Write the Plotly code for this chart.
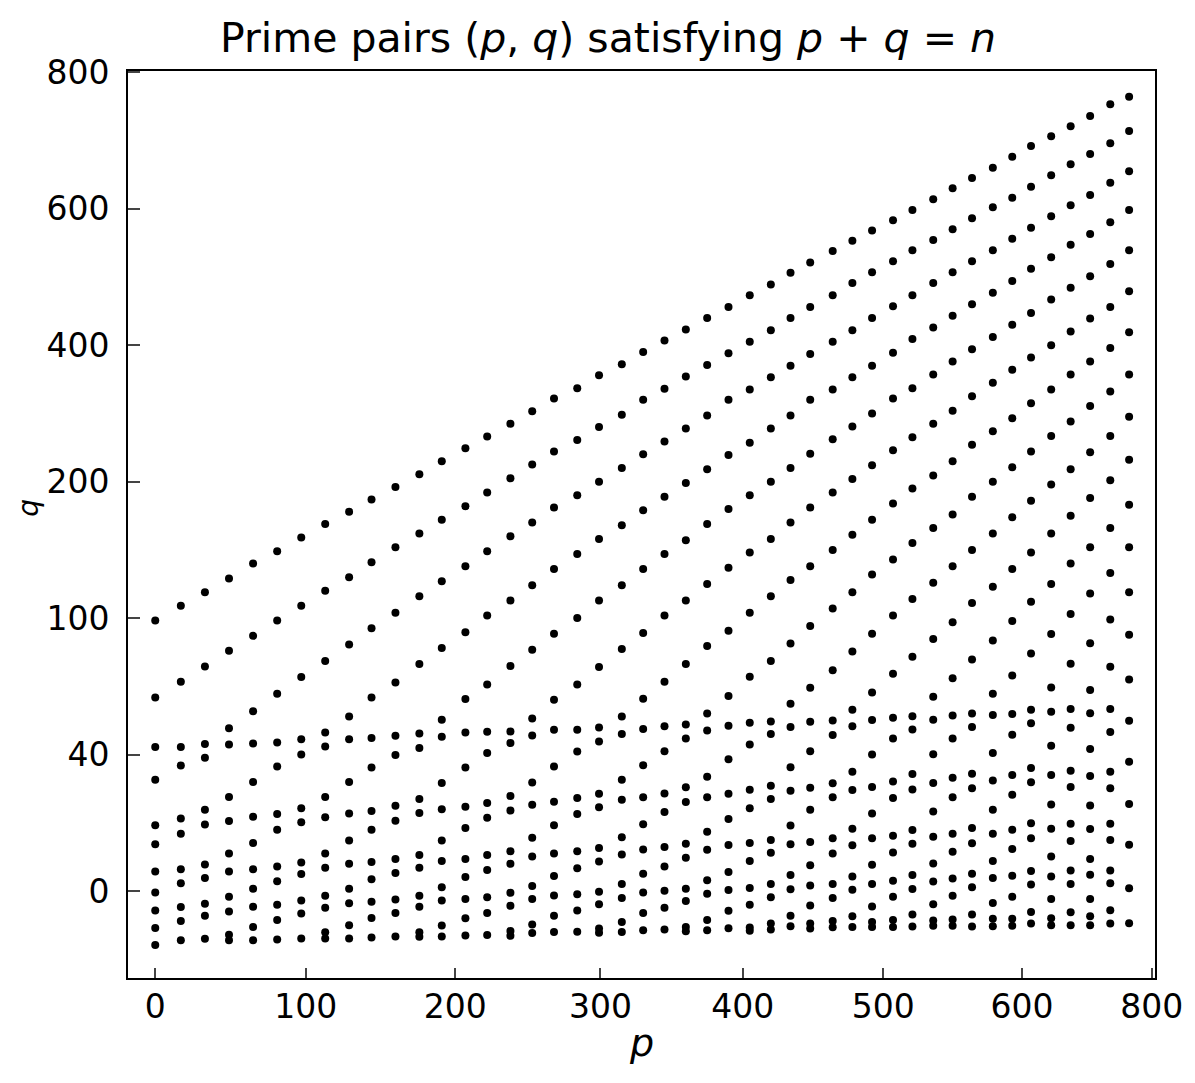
import numpy as np
import plotly.graph_objects as go

# ---- data -----------------------------------------------------------------
# p value of each column of points (read against the x tick labels)
P_COLUMNS = [0, 17, 33, 49, 65, 81, 97, 113, 129, 144,
             160, 176, 191, 207, 222, 238, 253, 268, 284, 299,
             315, 330, 345, 360, 375, 390, 405, 420, 434, 448,
             464, 478, 492, 507, 521, 536, 550, 564, 579, 593,
             614, 645, 675, 705, 736, 765]

# q values of the points in each column (read against the y tick labels)
Q_BY_COLUMN = [
    [99, 65.1, 43.3, 32.6, 19.3, 13.7, 5.7, -0.4, -5.7, -10.8, -15.8],
    [109, 72.0, 43.3, 36.8, 21.3, 16.8, 6.4, 2.3, -4.7, -8.8, -14.4],
    [119, 78.7, 44.7, 39.1, 23.8, 19.5, 7.8, 3.8, -3.7, -7.2, -14.0],
    [129, 85.6, 51.6, 44.4, 27.6, 20.5, 11.0, 5.7, -1.7, -6.0, -12.8, -14.4],
    [140, 92.2, 59.1, 44.9, 32.0, 21.8, 14.1, 6.4, 0.7, -4.6, -10.5, -14.4],
    [149, 98.9, 66.7, 45.3, 36.5, 22.6, 18.0, 7.2, 2.9, -4.0, -8.5, -14.2],
    [159, 109, 74.1, 46.8, 40.0, 24.3, 20.2, 8.4, 5.0, -2.8, -6.6, -13.9],
    [169, 120, 81.2, 49.7, 43.6, 27.6, 21.6, 11.0, 6.8, -1.4, -4.9, -12.1, -13.9],
    [178, 130, 88.4, 56.7, 46.8, 32.0, 22.7, 14.8, 8.0, 0.7, -3.6, -10.0, -13.9],
    [187, 141, 95.6, 65.1, 47.3, 36.2, 23.5, 18.0, 8.5, 3.5, -3.1, -7.9, -13.6],
    [196, 152, 104, 71.7, 48.3, 39.9, 25.0, 20.6, 9.4, 5.3, -2.5, -6.4, -13.3],
    [211, 162, 116, 79.8, 49.3, 42.9, 27.0, 22.9, 10.6, 6.8, -1.4, -4.6, -12.1, -13.4],
    [230, 172, 127, 86.9, 55.3, 47.8, 31.7, 24.0, 14.8, 8.8, 1.1, -2.8, -10.1, -13.3],
    [249, 182, 138, 93.8, 64.4, 49.7, 36.2, 24.7, 18.5, 9.4, 4.1, -2.3, -8.0, -13.0],
    [266, 192, 149, 102, 70.8, 50.0, 40.7, 25.8, 21.5, 10.6, 6.2, -1.8, -6.4, -12.9],
    [285, 205, 160, 113, 79.0, 50.2, 45.1, 27.9, 23.6, 11.7, 8.0, -0.5, -4.3, -11.7, -13.1],
    [303, 225, 170, 124, 86.1, 55.9, 48.4, 31.8, 25.3, 15.6, 10.1, 1.5, -2.3, -9.8, -12.3],
    [322, 244, 181, 136, 93.1, 64.1, 50.9, 36.5, 26.2, 19.3, 11.0, 4.4, -1.3, -7.2, -12.0],
    [337, 261, 190, 147, 100, 70.8, 50.9, 41.4, 27.3, 22.6, 11.7, 6.7, -0.9, -5.7, -11.9],
    [356, 280, 200, 158, 113, 78.5, 51.9, 45.8, 28.5, 24.6, 12.6, 8.7, -0.2, -3.9, -11.0, -12.2],
    [372, 298, 220, 168, 124, 86.4, 56.7, 49.1, 32.6, 26.8, 15.8, 10.7, 2.1, -2.0, -9.1, -12.0],
    [390, 320, 240, 179, 136, 93.5, 64.5, 51.3, 36.9, 27.5, 19.6, 12.2, 5.1, -0.4, -6.4, -11.5],
    [407, 336, 259, 189, 147, 102, 72.0, 52.5, 41.5, 28.6, 23.2, 12.9, 7.2, 0.1, -4.9, -11.3],
    [423, 354, 278, 199, 157, 113, 79.8, 53.2, 47.1, 30.4, 26.1, 13.9, 9.8, 0.7, -2.9, -10.5, -11.8],
    [440, 371, 297, 218, 169, 125, 87.7, 58.1, 50.6, 33.5, 27.5, 17.4, 12.1, 3.2, -0.8, -8.5, -11.5],
    [456, 388, 320, 239, 180, 137, 94.5, 65.8, 52.7, 38.6, 28.5, 21.1, 13.5, 5.6, 0.3, -5.8, -10.9],
    [473, 405, 335, 257, 190, 148, 104, 74.2, 54.0, 44.4, 29.7, 24.3, 14.1, 8.8, 0.9, -4.0, -10.7, -11.6],
    [489, 422, 353, 278, 200, 158, 116, 81.2, 54.5, 49.0, 30.9, 27.0, 15.0, 11.2, 2.1, -1.8, -9.5, -11.3],
    [506, 440, 370, 297, 220, 170, 128, 88.8, 62.3, 52.1, 36.3, 29.4, 19.2, 13.7, 4.7, 0.5, -7.2, -10.3],
    [521, 456, 387, 320, 241, 181, 138, 96.5, 69.4, 54.4, 41.5, 30.3, 23.8, 14.4, 7.6, 1.6, -4.2, -9.5, -11.0],
    [538, 473, 405, 335, 262, 192, 150, 107, 77.1, 55.0, 48.6, 31.6, 27.5, 15.5, 11.0, 2.1, -2.0, -8.8, -10.6],
    [553, 491, 422, 353, 281, 204, 161, 119, 85.3, 59.7, 52.5, 35.0, 29.6, 18.3, 13.4, 4.3, 0.4, -7.4, -10.5],
    [568, 507, 440, 370, 300, 224, 172, 132, 93.1, 67.3, 55.2, 40.0, 30.5, 22.7, 15.5, 7.7, 2.1, -4.5, -9.1, -10.5],
    [583, 523, 457, 389, 322, 246, 184, 143, 102, 75.5, 56.2, 47.1, 32.1, 27.3, 16.2, 11.3, 3.0, -1.7, -8.5, -10.5],
    [598, 539, 473, 409, 337, 265, 195, 155, 114, 83.0, 56.9, 51.0, 34.3, 29.8, 17.9, 13.9, 4.7, 0.6, -6.9, -10.4],
    [614, 554, 491, 426, 357, 285, 209, 166, 126, 90.8, 65.4, 55.3, 40.2, 31.7, 23.3, 15.9, 8.1, 2.8, -3.9, -8.6, -10.2],
    [630, 570, 507, 443, 376, 304, 230, 176, 138, 98.2, 73.6, 57.2, 47.1, 33.2, 27.5, 16.8, 11.5, 3.7, -1.4, -8.3, -10.2],
    [645, 586, 523, 460, 394, 325, 254, 189, 150, 111, 81.8, 58.1, 52.1, 34.4, 30.1, 18.5, 14.0, 5.1, 1.1, -6.9, -10.4],
    [660, 602, 539, 477, 412, 345, 274, 200, 162, 123, 90.2, 66.7, 57.4, 40.7, 32.4, 23.8, 16.8, 8.8, 3.8, -3.5, -8.1, -10.3],
    [676, 616, 556, 494, 430, 364, 293, 221, 174, 136, 98.7, 74.8, 57.9, 48.7, 34.0, 28.2, 18.0, 12.3, 4.5, -1.7, -8.1, -10.2],
    [692, 632, 572, 512, 447, 382, 315, 244, 186, 148, 112, 84.4, 59.7, 53.8, 36.1, 31.9, 19.9, 15.5, 5.9, 1.9, -6.1, -9.5],
    [706, 649, 589, 529, 467, 400, 335, 267, 198, 162, 125, 93.0, 69.5, 58.8, 43.9, 34.0, 25.4, 18.3, 10.1, 4.3, -2.3, -8.0, -10.0],
    [721, 665, 605, 547, 484, 420, 357, 288, 218, 175, 140, 103, 79.9, 60.1, 51.8, 35.3, 30.5, 19.7, 14.7, 6.0, 2.1, -6.2, -10.0],
    [736, 680, 620, 563, 501, 439, 376, 311, 243, 188, 152, 118, 89.0, 68.4, 58.2, 42.5, 33.7, 25.1, 18.2, 9.4, 4.8, -2.3, -7.4, -10.0],
    [753, 696, 638, 580, 519, 456, 396, 332, 267, 202, 166, 133, 99.4, 78.6, 60.1, 49.9, 35.0, 30.1, 19.7, 15.0, 6.0, 2.3, -5.6, -9.5],
    [764, 714, 655, 598, 539, 479, 419, 357, 295, 232, 183, 152, 119, 92.7, 73.0, 54.9, 37.9, 25.5, 13.6, 0.8, -9.4],
]

# tick labels of the two axes
X_TICK_LABELS = [0, 100, 200, 300, 400, 500, 600, 800]
Y_TICK_LABELS = [0, 40, 100, 200, 400, 600, 800]

# ---- axis scales (the picture's axes are not evenly divided) ---------------
X_TICK_POS = [0, 100, 199.3, 295.8, 390.3, 483.7, 575.8, 662.1]
Y_TICK_POS = list(range(len(Y_TICK_LABELS)))


def x_scale(p):
    return np.interp(np.asarray(p, float), X_TICK_LABELS, X_TICK_POS)


def y_scale(q):
    q = np.asarray(q, float)
    first_slope = (Y_TICK_POS[1] - Y_TICK_POS[0]) / (Y_TICK_LABELS[1] - Y_TICK_LABELS[0])
    return np.where(q < Y_TICK_LABELS[0], q * first_slope,
                    np.interp(q, Y_TICK_LABELS, Y_TICK_POS))


p_all = np.concatenate([[p] * len(qs) for p, qs in zip(P_COLUMNS, Q_BY_COLUMN)])
q_all = np.concatenate([qs for qs in Q_BY_COLUMN])

FONT = "DejaVu Sans"

fig = go.Figure()
fig.add_trace(go.Scatter(
    x=x_scale(p_all), y=y_scale(q_all),
    mode="markers",
    marker=dict(size=8, color="black", line=dict(width=0)),
    customdata=np.stack([p_all, q_all], axis=1),
    hovertemplate="p=%{customdata[0]}<br>q=%{customdata[1]}<extra></extra>",
    showlegend=False,
))

axis_common = dict(
    showgrid=False, zeroline=False,
    showline=True, linecolor="black", linewidth=2, mirror=True,
    ticks="inside", tickcolor="#444444", tickwidth=1.5,
    tickfont=dict(family=FONT, size=33, color="black"),
)

fig.update_xaxes(
    range=[-18.1, 664.2],
    tickmode="array", tickvals=X_TICK_POS, ticktext=[str(v) for v in X_TICK_LABELS],
    ticklen=10, ticklabelstandoff=-2,
    **axis_common,
)
fig.update_yaxes(
    range=[-0.637, 6.009],
    tickmode="array", tickvals=Y_TICK_POS, ticktext=[str(v) for v in Y_TICK_LABELS],
    ticklen=12, ticklabelstandoff=10,
    **axis_common,
)

W, H = 1187, 1075   # page body adds an 8 px offset around the figure
fig.update_layout(
    width=W, height=H,
    margin=dict(l=120, r=37, t=63, b=105),
    paper_bgcolor="white", plot_bgcolor="white",
    font=dict(family=FONT, color="black"),
    title=dict(
        text="Prime pairs (<i>p</i>, <i>q</i>) satisfying <i>p</i> + <i>q</i> = <i>n</i>",
        font=dict(family=FONT, size=41, color="black"),
        x=600 / W, xref="container", xanchor="center",
        y=1 - 30 / H, yref="container", yanchor="middle",
    ),
    annotations=[
        dict(text="<i>p</i>", xref="paper", yref="paper", x=0.5, y=-0.072,
             xanchor="center", yanchor="middle", showarrow=False,
             font=dict(family=FONT, size=38, color="black")),
        dict(text="<i>q</i>", xref="paper", yref="paper", x=-0.097, y=0.519,
             xanchor="center", yanchor="middle", textangle=-90, showarrow=False,
             font=dict(family=FONT, size=28, color="black")),
    ],
)

fig.write_html("out.html")
